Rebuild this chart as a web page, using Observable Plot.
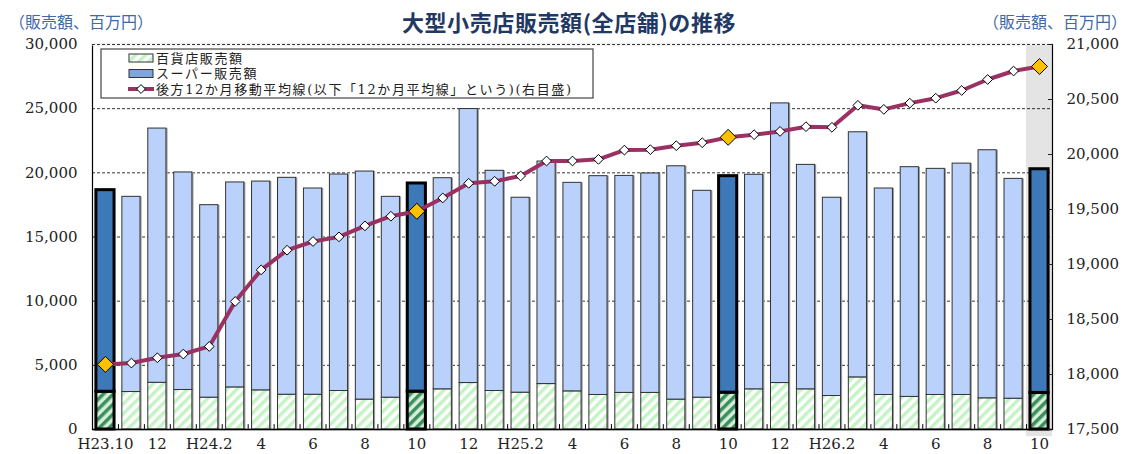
<!DOCTYPE html>
<html><head><meta charset="utf-8">
<script src="https://cdn.jsdelivr.net/npm/d3@7"></script>
<script src="https://cdn.jsdelivr.net/npm/@observablehq/plot@0.6"></script>
<style>body{margin:0;background:#fff} svg{display:block}</style>
</head><body><div id="chart"></div>
<script>
const months = ["H23.10","H23.11","H23.12","H24.1","H24.2","H24.3","H24.4","H24.5","H24.6","H24.7","H24.8","H24.9","H24.10","H24.11","H24.12","H25.1","H25.2","H25.3","H25.4","H25.5","H25.6","H25.7","H25.8","H25.9","H25.10","H25.11","H25.12","H26.1","H26.2","H26.3","H26.4","H26.5","H26.6","H26.7","H26.8","H26.9","H26.10"];
const tickLabels = ["H23.10","","12","","H24.2","","4","","6","","8","","10","","12","","H25.2","","4","","6","","8","","10","","12","","H26.2","","4","","6","","8","","10"];
// 百貨店販売額 (百万円)
const department = [2940,2920,3640,3080,2480,3280,3050,2710,2710,3000,2330,2480,2950,3130,3620,3000,2870,3540,2970,2690,2850,2850,2330,2480,2870,3130,3620,3130,2610,4060,2690,2540,2690,2690,2430,2400,2850];
// スーパー販売額 (百万円)
const supermarket = [15710,15210,19810,16950,15000,15970,16270,16900,16070,16870,17770,15650,16220,16450,21350,17160,15190,17340,16250,17050,16910,17100,18180,16120,16870,16720,21790,17490,15450,19100,16090,17900,17620,18030,19330,17130,17430];
// 後方12か月移動平均 (右目盛, 百万円)
const movingAvg = [18092,18104,18152,18186,18255,18664,18951,19130,19209,19251,19351,19439,19484,19605,19738,19756,19805,19941,19941,19956,20040,20044,20080,20107,20156,20180,20210,20253,20247,20447,20410,20467,20512,20582,20682,20759,20800];
const highlightMonths = ["H23.10","H24.10","H25.10","H26.10"];
const leftTicks = [0,5000,10000,15000,20000,25000,30000];
const rightTicks = [17500,18000,18500,19000,19500,20000,20500,21000];
const gridTicks = [5000,10000,15000,20000,25000];

const L0 = 0, L1 = 30000, R0 = 17500, R1 = 21000;
const toLeft = v => (v - R0) / (R1 - R0) * (L1 - L0) + L0;
const fromLeft = v => Math.round((v - L0) / (L1 - L0) * (R1 - R0) + R0);
const fmt = d3.format(",");

const table = months.map((m, i) => ({
  m, dept: department[i], sup: supermarket[i], total: department[i] + supermarket[i],
  ma: toLeft(movingAvg[i]), hi: highlightMonths.includes(m), label: tickLabels[i]
}));
const normal = table.filter(d => !d.hi), hiRows = table.filter(d => d.hi);
const labelOf = Object.fromEntries(table.map(d => [d.m, d.label]));

const plot = Plot.plot({
  width: 1127, height: 454,
  marginLeft: 92, marginRight: 75, marginTop: 44, marginBottom: 25,
  x: {type: "band", domain: months, paddingInner: 0.3, paddingOuter: 0.15, axis: null, label: null},
  y: {domain: [L0, L1], axis: null, label: null},
  style: {fontFamily: "'DejaVu Serif', serif", fontSize: "15px", color: "#222", background: "#fff", overflow: "visible"},
  marks: [
    Plot.barY([months[months.length - 1]], {x: d => d, y1: -560, y2: L1, fill: "#e4e4e4", insetLeft: -4, insetRight: -4}),
    Plot.ruleY(gridTicks, {stroke: "#000", strokeDasharray: "3,2", strokeWidth: 0.8}),
    Plot.barY(normal, {x: "m", y1: 0, y2: "total", fill: "#9c9c9c", dx: 1.6}),
    Plot.barY(normal, {x: "m", y1: 0, y2: "dept", fill: "url(#hatchLight)", stroke: "#333", strokeWidth: 1}),
    Plot.barY(normal, {x: "m", y1: "dept", y2: "total", fill: "#b9d1fb", stroke: "#333", strokeWidth: 1}),
    Plot.barY(hiRows, {x: "m", y1: 0, y2: "dept", fill: "url(#hatchDark)", stroke: "#000", strokeWidth: 3}),
    Plot.barY(hiRows, {x: "m", y1: "dept", y2: "total", fill: "#3d78b8", stroke: "#000", strokeWidth: 3}),
    Plot.frame({stroke: "#000", strokeWidth: 1.2}),
    Plot.ruleY([L1], {stroke: "#fff", strokeWidth: 2}),
    Plot.ruleY([L1], {stroke: "#000", strokeDasharray: "3,2", strokeWidth: 0.8}),
    Plot.ruleY([L0], {stroke: "#000", strokeWidth: 1.5}),
    Plot.ruleX(months.slice(1), {x: d => d, y1: 0, y2: 380, stroke: "#000", strokeWidth: 1, dx: -12.97}),
    Plot.line(table, {x: "m", y: "ma", stroke: "#9b3163", strokeWidth: 4}),
    Plot.dot(normal, {x: "m", y: "ma", symbol: "diamond2", r: 4.4, fill: "#fff", stroke: "#000", strokeWidth: 1}),
    Plot.dot(hiRows, {x: "m", y: "ma", symbol: "diamond2", r: 7.2, fill: "#ffc000", stroke: "#000", strokeWidth: 1}),
    Plot.axisY(leftTicks, {anchor: "left", tickSize: 0, tickPadding: 15, tickFormat: fmt, label: null}),
    Plot.axisY(rightTicks.map(toLeft), {anchor: "right", tickSize: -5, tickPadding: 19, tickFormat: d => fmt(fromLeft(d)), label: null}),
    Plot.axisX({anchor: "bottom", tickSize: 0, tickPadding: 9, tickFormat: d => labelOf[d], label: null})
  ]
});

const svg = d3.select(plot);
const defs = svg.insert("defs", ":first-child");
function hatch(id, bg, fg) {
  const p = defs.append("pattern").attr("id", id).attr("patternUnits", "userSpaceOnUse")
    .attr("width", 7).attr("height", 7).attr("patternTransform", "rotate(45)");
  p.append("rect").attr("width", 7).attr("height", 7).attr("fill", bg);
  p.append("rect").attr("width", 3.5).attr("height", 7).attr("fill", fg);
}
hatch("hatchLight", "#ffffff", "#c6f3c6");
hatch("hatchDark", "#d6efdb", "#3b8f5c");

const jp = "'Noto Sans CJK JP', sans-serif";
const jpSerif = "'DejaVu Serif', 'Noto Sans CJK JP', serif";
svg.append("text").attr("x", 569).attr("y", 31).attr("text-anchor", "middle")
  .attr("font-family", jp).attr("font-size", 22).attr("font-weight", "bold").attr("fill", "#1f3864")
  .attr("letter-spacing", 0.6)
  .text("大型小売店販売額(全店舗)の推移");
svg.append("text").attr("x", 9).attr("y", 28).attr("text-anchor", "start").attr("font-family", jp).attr("font-size", 16).attr("fill", "#3f6aa6")
  .text("（販売額、百万円）");
svg.append("text").attr("x", 1127).attr("y", 28).attr("text-anchor", "end").attr("font-family", jp).attr("font-size", 16).attr("fill", "#3f6aa6")
  .text("（販売額、百万円）");

// legend
const lg = svg.append("g").attr("text-anchor", "start");
lg.append("rect").attr("x", 101).attr("y", 49).attr("width", 492).attr("height", 49).attr("fill", "#fff").attr("stroke", "#444").attr("stroke-width", 1.2);
const rows = [
  {y: 58, text: "百貨店販売額", kind: "hatch"},
  {y: 73.5, text: "スーパー販売額", kind: "blue"},
  {y: 89, text: "後方12か月移動平均線(以下「12か月平均線」という)(右目盛)", kind: "line"}
];
rows.forEach(r => {
  if (r.kind === "line") {
    lg.append("line").attr("x1", 128).attr("x2", 154).attr("y1", r.y).attr("y2", r.y).attr("stroke", "#9b3163").attr("stroke-width", 4);
    lg.append("path").attr("d", d3.symbol(d3.symbolDiamond2, 50)()).attr("transform", `translate(141,${r.y})`).attr("fill", "#fff").attr("stroke", "#000");
  } else {
    lg.append("rect").attr("x", 129).attr("y", r.y - 4).attr("width", 24).attr("height", 8)
      .attr("fill", r.kind === "hatch" ? "url(#hatchLight)" : "#7ea6dc").attr("stroke", "#333");
  }
  lg.append("text").attr("x", 156).attr("y", r.y).attr("dy", "0.36em").attr("text-anchor", "start").attr("font-family", jpSerif)
    .attr("font-size", 13).attr("letter-spacing", 1.6).attr("fill", "#222").text(r.text);
});

document.getElementById("chart").appendChild(plot);
</script>
</body></html>
